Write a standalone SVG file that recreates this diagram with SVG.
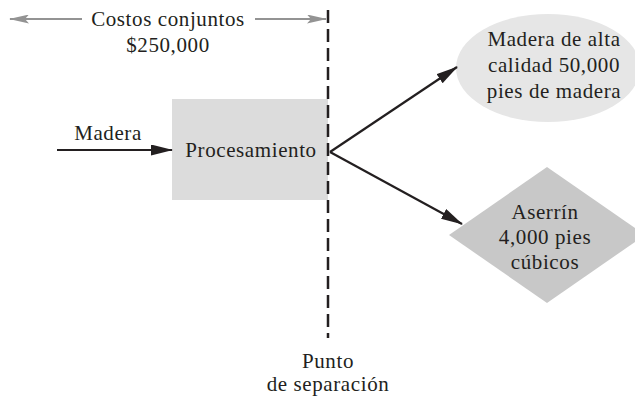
<svg xmlns="http://www.w3.org/2000/svg" width="635" height="397" viewBox="0 0 635 397">
<defs>
<style>
text{font-family:"Liberation Serif","DejaVu Serif",serif;font-size:21px;letter-spacing:0.6px;fill:#231f20;text-anchor:middle}
.dark{stroke:#231f20;stroke-width:2.2;fill:none}
.grey{stroke:#939393;stroke-width:2.2;fill:none}
</style>
<marker id="ahb" markerWidth="22" markerHeight="11" refX="21" refY="5.5" orient="auto" markerUnits="userSpaceOnUse" viewBox="0 0 22 11"><path d="M0,0 L22,5.5 L0,11 Z" fill="#231f20"/></marker>
<marker id="ag" markerWidth="20" markerHeight="9" refX="19" refY="4.5" orient="auto-start-reverse" markerUnits="userSpaceOnUse" viewBox="0 0 20 9"><path d="M0,0 L20,4.5 L0,9 L4,4.5 Z" fill="#939393"/></marker>
</defs>
<g id="cost-label">
<line class="grey" x1="10" y1="19" x2="82" y2="19" marker-start="url(#ag)"/>
<line class="grey" x1="255" y1="19" x2="326" y2="19" marker-end="url(#ag)"/>
<text x="168" y="26">Costos conjuntos</text>
<text x="168" y="52">$250,000</text>
</g>
<g id="procesamiento">
<rect x="172" y="99" width="156" height="101" fill="#dcdcdc"/>
<text x="251" y="157">Procesamiento</text>
</g>
<g id="madera-alta">
<ellipse cx="548" cy="68" rx="92" ry="54" fill="#e6e6e6"/>
<text x="554" y="46">Madera de alta</text>
<text x="554" y="72">calidad 50,000</text>
<text x="554" y="98">pies de madera</text>
</g>
<g id="aserrin">
<polygon points="449,235 547,167 645,235 547,303" fill="#c8c8c8"/>
<text x="545" y="219">Aserrín</text>
<text x="545" y="244">4,000 pies</text>
<text x="545" y="269">cúbicos</text>
</g>
<g id="split-point">
<line x1="328" y1="10" x2="328" y2="338" stroke="#231f20" stroke-width="2.5" stroke-dasharray="13,6"/>
<text x="328" y="368">Punto</text>
<text x="328" y="391">de separación</text>
</g>
<g id="connectors">
<line class="dark" x1="57" y1="150" x2="172" y2="150" marker-end="url(#ahb)"/>
<text x="108" y="140">Madera</text>
<line class="dark" x1="330" y1="152" x2="457" y2="67" marker-end="url(#ahb)"/>
<line class="dark" x1="330" y1="152" x2="462" y2="224" marker-end="url(#ahb)"/>
</g>
</svg>
